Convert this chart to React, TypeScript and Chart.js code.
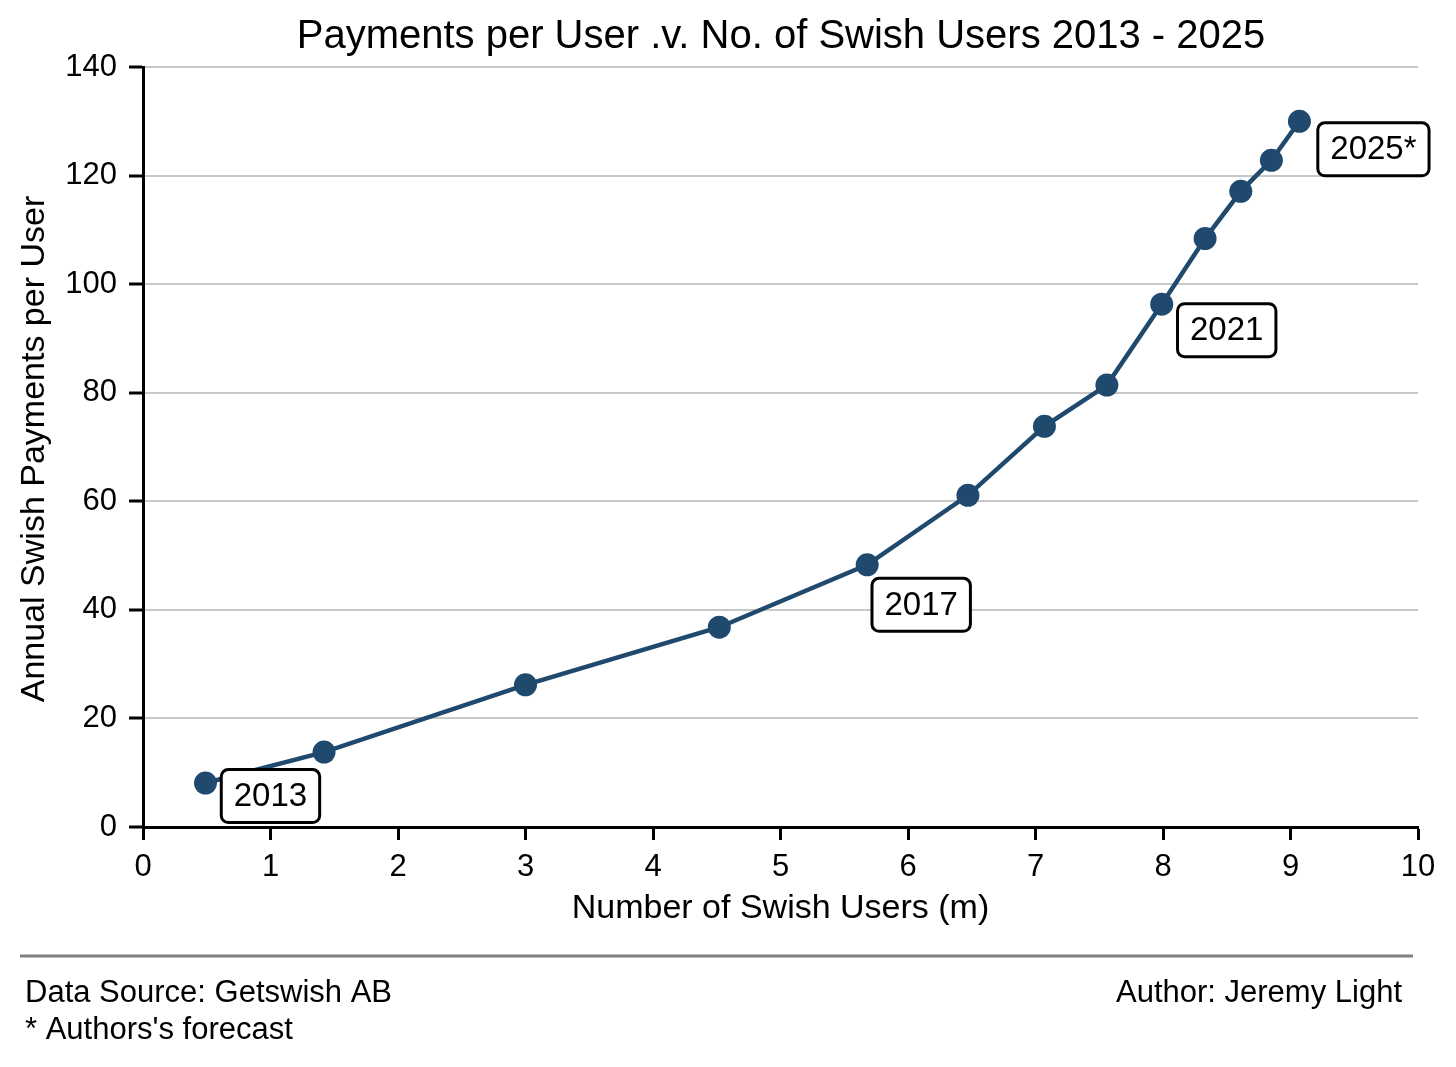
import React, { useEffect, useRef } from "react";
import { Chart, registerables } from "chart.js";

Chart.register(...registerables);

const years = ["2013", "2014", "2015", "2016", "2017", "2018", "2019", "2020", "2021", "2022", "2023", "2024", "2025*"];
const users = [0.49, 1.42, 3.0, 4.52, 5.68, 6.47, 7.07, 7.56, 7.99, 8.33, 8.61, 8.85, 9.07];
const paymentsPerUser = [8.1, 13.8, 26.2, 36.8, 48.3, 61.1, 73.8, 81.4, 96.3, 108.4, 117.1, 122.8, 130.0];
const labeledYears = ["2013", "2017", "2021", "2025*"];

const titleText = "Payments per User .v. No. of Swish Users 2013 - 2025";
const xTitle = "Number of Swish Users (m)";
const yTitle = "Annual Swish Payments per User";
const footLeft1 = "Data Source: Getswish AB";
const footLeft2 = "* Authors's forecast";
const footRight = "Author: Jeremy Light";

const FONT = "'Liberation Sans', Arial, Helvetica, sans-serif";
const NAVY = "#1f4a6e";

// label box centre offsets from the point (pixels)
const labelOffsets: Record<string, [number, number]> = {
  "2013": [65, 13],
  "2017": [54, 40],
  "2021": [65, 26],
  "2025*": [74, 28],
};

export default function App() {
  const ref = useRef<HTMLCanvasElement | null>(null);
  useEffect(() => {
    document.body.style.margin = "0";
    const canvas = ref.current!;
    const decor = {
      id: "decor",
      afterDatasetsDraw(chart: any) {
        const ctx = chart.ctx as CanvasRenderingContext2D;
        const meta = chart.getDatasetMeta(0);
        ctx.save();
        ctx.font = `33px ${FONT}`;
        ctx.textAlign = "center";
        ctx.textBaseline = "middle";
        years.forEach((yr, i) => {
          if (!labeledYears.includes(yr)) return;
          const p = meta.data[i];
          const off = labelOffsets[yr] || [60, 20];
          const cx = p.x + off[0];
          const cy = p.y + off[1];
          const tw = ctx.measureText(yr).width;
          const w = tw + 25;
          const h = 53;
          ctx.beginPath();
          (ctx as any).roundRect(cx - w / 2, cy - h / 2, w, h, 7);
          ctx.fillStyle = "#fff";
          ctx.fill();
          ctx.lineWidth = 3;
          ctx.strokeStyle = "#000";
          ctx.stroke();
          ctx.fillStyle = "#000";
          ctx.fillText(yr, cx, cy + 1);
        });
        ctx.restore();
      },
      afterDraw(chart: any) {
        const ctx = chart.ctx as CanvasRenderingContext2D;
        const area = chart.chartArea;
        ctx.save();
        ctx.fillStyle = "#000";
        ctx.textBaseline = "middle";
        ctx.textAlign = "center";
        ctx.font = `40px ${FONT}`;
        ctx.fillText(titleText, 781, 37);
        ctx.font = `34px ${FONT}`;
        ctx.fillText(xTitle, (area.left + area.right) / 2, 909);
        ctx.save();
        ctx.translate(35, 449);
        ctx.rotate(-Math.PI / 2);
        ctx.fillText(yTitle, 0, 0);
        ctx.restore();
        // footer
        ctx.strokeStyle = "#808080";
        ctx.lineWidth = 3;
        ctx.beginPath();
        ctx.moveTo(20, 956);
        ctx.lineTo(1413, 956);
        ctx.stroke();
        ctx.font = `31px ${FONT}`;
        ctx.textAlign = "left";
        ctx.fillText(footLeft1, 25, 993);
        ctx.fillText(footLeft2, 25, 1030);
        ctx.textAlign = "right";
        ctx.fillText(footRight, 1402, 993);
        ctx.restore();
      },
    };
    const chart = new Chart(canvas, {
      type: "line",
      data: {
        datasets: [
          {
            data: users.map((u, i) => ({ x: u, y: paymentsPerUser[i] })),
            borderColor: NAVY,
            backgroundColor: NAVY,
            borderWidth: 4.5,
            pointRadius: 11.5,
            pointBorderWidth: 0,
            pointBackgroundColor: NAVY,
            tension: 0,
            clip: false as any,
          },
        ],
      },
      options: {
        animation: false,
        responsive: false,
        devicePixelRatio: 1,
        layout: { padding: { left: 0, top: 67, right: 38, bottom: 120 } },
        plugins: { legend: { display: false }, tooltip: { enabled: false }, title: { display: false } },
        scales: {
          x: {
            type: "linear",
            min: 0,
            max: 10,
            ticks: { stepSize: 1, color: "#000", font: { family: FONT, size: 31 }, padding: 9 },
            grid: { drawOnChartArea: false, drawTicks: true, tickLength: 13, tickColor: "#000", tickWidth: 3 },
            border: { color: "#000", width: 3 },
            afterFit: (s: any) => { s.height = 120; },
          },
          y: {
            min: 0,
            max: 140,
            ticks: { stepSize: 20, color: "#000", font: { family: FONT, size: 31 }, padding: 12 },
            grid: { color: "#c8c8c8", lineWidth: 2, drawTicks: true, tickLength: 14, tickColor: "#000", tickWidth: 3 },
            border: { color: "#000", width: 3 },
            afterFit: (s: any) => { s.width = 143; },
          },
        },
      },
      plugins: [decor],
    });
    return () => chart.destroy();
  }, []);
  return (
    <div style={{ width: 1456, height: 1067, background: "#fff" }}>
      <canvas ref={ref} width={1456} height={1067} style={{ display: "block" }} />
    </div>
  );
}
